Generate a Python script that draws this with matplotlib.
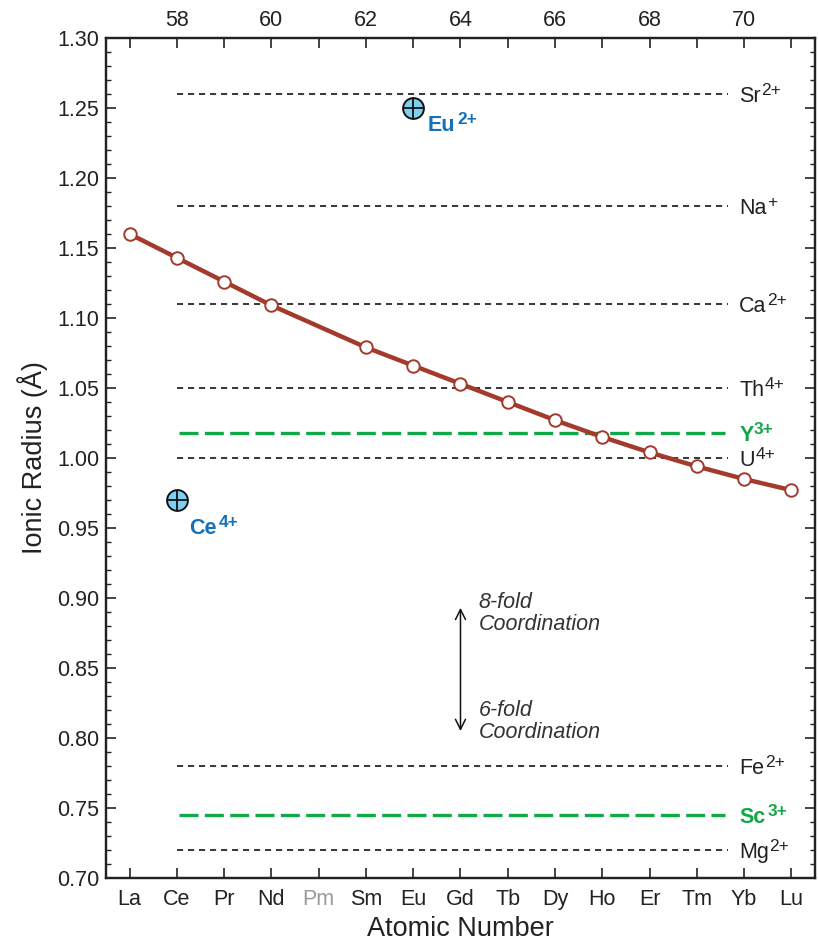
import matplotlib
matplotlib.use("Agg")
import matplotlib.pyplot as plt
from matplotlib.ticker import MultipleLocator, FixedLocator, FormatStrFormatter

plt.rcParams["font.family"] = ["Liberation Sans", "DejaVu Sans"]

# Lanthanide ionic radii (8-fold coordination), Pm omitted
elements = ["La", "Ce", "Pr", "Nd", "Pm", "Sm", "Eu", "Gd", "Tb", "Dy", "Ho", "Er", "Tm", "Yb", "Lu"]
atomic_numbers = list(range(57, 72))
ree_z = [57, 58, 59, 60, 62, 63, 64, 65, 66, 67, 68, 69, 70, 71]
ree_radius = [1.160, 1.143, 1.126, 1.109, 1.079, 1.066, 1.053, 1.040, 1.027, 1.015, 1.004, 0.994, 0.985, 0.977]

# Reference cations (horizontal lines): symbol, charge, radius
ref_ions = ["Sr", "Na", "Ca", "Th", "U", "Fe", "Mg"]
ref_charge = ["2+", "+", "2+", "4+", "4+", "2+", "2+"]
ref_radius = [1.26, 1.18, 1.11, 1.05, 1.00, 0.78, 0.72]
hl_ions = ["Y", "Sc"]
hl_charge = ["3+", "3+"]
hl_radius = [1.018, 0.745]

# Anomalous valence states
anom_ions = ["Eu", "Ce"]
anom_charge = ["2+", "4+"]
anom_z = [63, 58]
anom_radius = [1.25, 0.97]
anom_label_pos = [(63.31, 1.239), (58.25, 0.951)]

red = "#a33a2b"
green = "#12a84a"
blue = "#1570b8"
cyan = "#7dd0ef"
ink = "#222222"

FS = 15.5

fig = plt.figure(figsize=(8.19, 9.42), dpi=100)
ax = fig.add_axes([0.1294, 0.0679, 0.8657, 0.8918])
ax.set_xlim(56.5, 71.5)
ax.set_ylim(0.70, 1.30)
renderer = fig.canvas.get_renderer()


def ion_label(x, y, base, sup, color, weight="normal", gap=0.0, size=FS):
    """Element symbol centred on (x, y) with a large raised charge."""
    cap = 0.716 * size
    t = ax.annotate(base, xy=(x, y), xytext=(0, -cap / 2), textcoords="offset points",
                    fontsize=size, color=color, fontweight=weight,
                    ha="left", va="baseline")
    bb = t.get_window_extent(renderer)
    px, py = ax.transData.transform((x, y))
    base_y = py - cap / 2 * fig.dpi / 72
    ax.annotate(sup, xy=(bb.x1 + gap * fig.dpi / 72, base_y + 0.45 * cap * fig.dpi / 72),
                xycoords="figure pixels", fontsize=size * 0.8, color=color,
                fontweight=weight, ha="left", va="baseline")


line_x0, line_x1, lab_x = 58.0, 69.65, 69.9
for r, ion, ch in zip(ref_radius, ref_ions, ref_charge):
    ax.plot([line_x0, line_x1], [r, r], color="black", lw=1.1, dashes=(4.0, 3.2), zorder=2)
    ion_label(lab_x, r, ion, ch, ink, gap=0.2)
for r, ion, ch, g in zip(hl_radius, hl_ions, hl_charge, [0.2, 1.5]):
    ax.plot([line_x0 + 0.05, line_x1 - 0.05], [r, r], color=green, lw=2.4,
            dashes=(5.7, 1.9), zorder=2)
    ion_label(lab_x, r, ion, ch, green, weight="bold", gap=g)

ax.plot(ree_z, ree_radius, color=red, lw=3.2, marker="o", ms=9, mfc="white",
        mec=red, mew=1.4, zorder=4)

for z, r in zip(anom_z, anom_radius):
    ax.plot([z], [r], marker="o", ms=15, mfc=cyan, mec="#111111", mew=1.4, zorder=5)
    ax.plot([z], [r], marker="+", ms=15, mec="#111111", mew=1.3, zorder=6)
for (lx, ly), ion, ch in zip(anom_label_pos, anom_ions, anom_charge):
    ion_label(lx, ly, ion, ch, blue, weight="bold", gap=1.5)

# Coordination arrow
ax.annotate("", xy=(64.0, 0.893), xytext=(64.0, 0.805),
            arrowprops=dict(arrowstyle="<->", color="#111111", lw=1.1,
                            mutation_scale=18, shrinkA=0, shrinkB=0))
ax.text(64.38, 0.889, "8-fold\nCoordination", fontsize=FS, style="italic",
        color="#333333", va="center", ha="left", linespacing=1.05)
ax.text(64.38, 0.812, "6-fold\nCoordination", fontsize=FS, style="italic",
        color="#333333", va="center", ha="left", linespacing=1.05)

# Axes styling
for sp in ax.spines.values():
    sp.set_linewidth(1.6)
    sp.set_color(ink)

ax.xaxis.set_major_locator(FixedLocator(atomic_numbers))
ax.set_xticklabels(elements)
ax.yaxis.set_major_locator(MultipleLocator(0.05))
ax.yaxis.set_minor_locator(MultipleLocator(0.01))
ax.yaxis.set_major_formatter(FormatStrFormatter("%.2f"))
ax.tick_params(axis="both", which="major", direction="in", length=7, width=1.2,
               labelsize=FS, colors=ink, right=True)
ax.tick_params(axis="x", which="major", pad=8, top=False)
ax.tick_params(axis="y", which="minor", direction="in", length=3.5, width=1.0,
               right=True, colors=ink)
ax.tick_params(axis="y", which="major", pad=5)

top = ax.twiny()
top.set_xlim(ax.get_xlim())
top.xaxis.set_major_locator(FixedLocator(atomic_numbers))
top.set_xticklabels([str(z) if z % 2 == 0 else "" for z in atomic_numbers])
top.tick_params(axis="x", direction="in", length=7, width=1.2, labelsize=FS,
                colors=ink, pad=5)
for sp in top.spines.values():
    sp.set_linewidth(1.6)
    sp.set_color(ink)

# Promethium has no stable isotope: grey its label
for lbl, el in zip(ax.get_xticklabels(), elements):
    if el == "Pm":
        lbl.set_color("#9a9a9a")

ax.set_xlabel("Atomic Number", fontsize=19.5, color=ink, labelpad=4)
ax.set_ylabel("Ionic Radius (Å)", fontsize=19.5, color=ink, labelpad=6)

fig.savefig("out.png", dpi=100)
